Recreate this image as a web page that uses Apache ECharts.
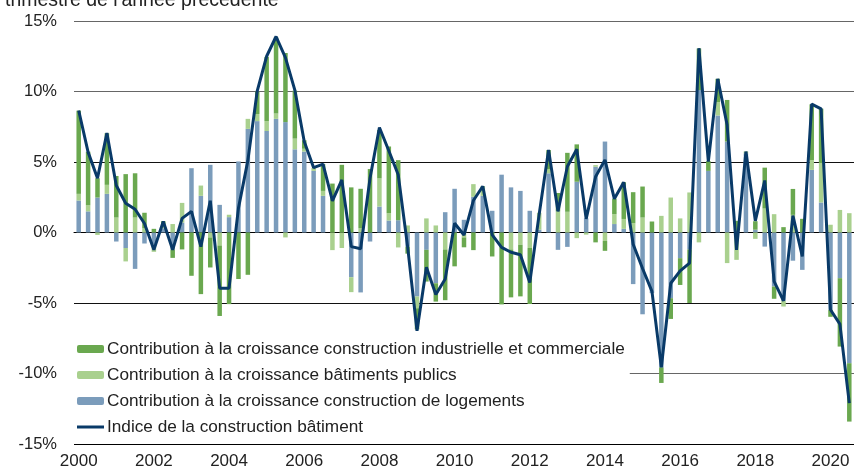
<!DOCTYPE html>
<html>
<head>
<meta charset="utf-8">
<title>Indice de la construction bâtiment</title>
<script src="https://cdn.jsdelivr.net/npm/echarts@6/dist/echarts.min.js"></script>
<style>
	html, body { margin: 0; padding: 0; background: #fff; }
	#chart { width: 854px; height: 475px; }
</style>
</head>
<body>
<div id="chart"></div>
<script>
	// années affichées sur l'axe (un libellé tous les deux ans)
	var years = ['2000', '2001', '2002', '2003', '2004', '2005', '2006', '2007', '2008', '2009', '2010',
		'2011', '2012', '2013', '2014', '2015', '2016', '2017', '2018', '2019', '2020'];
	var yTicks = [-15, -10, -5, 0, 5, 10, 15];

	// contributions (points de %), 2000T1 -> 2020T3
	var logements = [2.27, 1.5, 2.48, 2.74, -0.64, -1.1, -2.58, -0.78, -0.87, 0.3, -1.2, 0.7,
		4.56, 2.6, 4.8, 1.96, 1.09, 5.04, 7.35, 7.9, 7.2, 8.06, 7.83, 5.9,
		5.74, 4.37, 2.6, 0, 0, -3.17, -4.25, -0.64, 1.84, 0.85, 0.87, -1.0,
		-4.54, -1.23, -3.6, 1.44, 3.1, 0.9, 2.53, 2.6, 1.54, 4.1, 3.2, 2.95,
		1.54, 0.2, 4.2, -1.23, -1.02, 3.6, 1.0, 4.66, 6.45, 0.6, 0.26, -3.66,
		-5.8, -4.3, -9.57, -4.66, -1.82, -1.2, 10.1, 4.37, 8.3, 6.45, 0, 5.6,
		0.2, -1.0, -3.83, -4.85, -2.0, -2.65, 4.44, 2.13, -5.48, -3.24, -9.27];
	var publics = [0.47, 0.43, -0.17, 0.64, 1.06, -0.95, 1.06, 0.3, -0.5, 0.2, 0.6, 1.4,
		0, 0.73, -0.35, -0.92, 0.17, 0, 0.71, 0.5, 0.7, 0.38, -0.35, 0.76,
		0.2, 0.2, 0.35, -1.25, -1.1, -1.06, 0.3, 0, 2.0, 0.52, -1.06, 0.5,
		-0.83, 1.0, 0.5, -1.2, 0, -0.35, 0.9, 0.7, 0, 0, -1.2, -0.87,
		-1.1, 1.2, 0.3, 1.5, 1.47, -0.4, -0.15, 0.12, -0.6, 0.7, 0.7, 0.66,
		1.06, 0, 1.18, 2.48, 1.0, 2.84, -0.7, 0, 0.95, -2.17, -1.94, 0.15,
		-0.45, 1.7, 1.3, -0.4, 1.25, 0, 0.7, 2.8, 0.55, 1.6, 1.37];
	var industrie = [5.9, 3.8, 1.37, 3.66, 2.95, 4.14, 3.14, 1.1, 0.26, 0.3, -0.6, -1.2,
		-3.07, -4.37, -2.13, -5.0, -5.08, -3.3, -3.0, 1.6, 4.56, 5.39, 4.9, 3.4,
		0.6, 0, 1.9, 3.47, 4.8, 3.2, 2.8, 4.5, 3.43, 4.73, 4.26, -0.5,
		-1.5, -2.25, -1.3, -3.6, -2.4, -0.7, -1.25, 0, -1.7, -5.1, -3.4, -3.66,
		-3.97, 0, 1.35, 1.3, 4.18, 2.65, 0, -0.7, -0.7, 1.1, 2.6, 2.2,
		2.2, 0.78, -1.1, -1.47, -1.9, -3.8, 2.95, 0.7, 1.65, 2.95, 0.83, 0,
		0.6, 2.9, -0.87, 0.38, 1.84, 0.97, 3.95, 3.85, -0.5, -4.85, -4.14];
	// indice (variation en %)
	var indice = [8.65, 5.7, 3.85, 7.05, 3.33, 2.08, 1.65, 0.64, -1.23, 0.78, -1.23, 1.0,
		1.5, -1.0, 2.25, -3.95, -3.95, 1.73, 5.1, 10.05, 12.5, 13.9, 12.4, 10.1,
		6.45, 4.6, 4.85, 2.25, 3.73, -1.0, -1.15, 3.85, 7.45, 5.8, 4.1, -1.0,
		-6.97, -2.46, -4.4, -3.3, 0.66, -0.18, 2.27, 3.28, -0.17, -1.05, -1.4, -1.58,
		-3.55, 1.3, 5.86, 1.5, 4.68, 5.9, 0.97, 3.95, 5.15, 2.39, 3.57, -0.83,
		-2.55, -4.18, -9.57, -3.6, -2.72, -2.17, 13.07, 5.03, 10.9, 7.63, -1.23, 5.74,
		0.83, 3.69, -3.47, -4.85, 1.2, -1.7, 9.1, 8.77, -5.48, -6.5, -12.1];

	var noms = [
		'Contribution à la croissance construction industrielle et commerciale',
		'Contribution à la croissance bâtiments publics',
		'Contribution à la croissance construction de logements',
		'Indice de la construction bâtiment'
	];

	// trimestres : 2000T1 ... 2020T3
	var trimestres = [];
	for (var i = 0; i < indice.length; i++) {
		trimestres.push(years[Math.floor(i / 4)] + 'T' + (i % 4 + 1));
	}

	var police = 'Liberation Sans, Arial, sans-serif';
	var myChart = echarts.init(document.getElementById('chart'));

	var option = {
		animation: false,
		title: {
			text: 'trimestre de l\'année précédente',
			left: 0,
			top: -14,
			textStyle: { fontFamily: police, fontSize: 19.5, fontWeight: 'normal', color: '#222' }
		},
		grid: { left: 74, right: 0, top: 21, bottom: 31 },
		legend: {
			orient: 'vertical',
			left: 74,
			top: 332,
			padding: [8, 5, 2, 3],
			backgroundColor: '#fff',
			itemWidth: 27,
			itemHeight: 8,
			itemGap: 8,
			textStyle: { fontFamily: police, fontSize: 17.2, color: '#222', lineHeight: 18, padding: [0, 0, 0, -2] },
			data: [
				noms[0],
				noms[1],
				noms[2],
				{ name: noms[3], icon: 'path://M0 0H27V3H0Z' }
			]
		},
		xAxis: {
			type: 'category',
			data: trimestres,
			axisLine: { lineStyle: { color: '#000', width: 1 } },
			axisTick: { interval: 3, length: 5, lineStyle: { color: '#000' } },
			axisLabel: {
				interval: 7,
				margin: 9,
				fontFamily: police,
				fontSize: 17,
				color: '#222',
				formatter: function (v) { return v.slice(0, 4); }
			},
			splitLine: { show: false }
		},
		yAxis: {
			type: 'value',
			min: yTicks[0],
			max: yTicks[yTicks.length - 1],
			interval: 5,
			axisLine: { show: false },
			axisTick: { show: false },
			axisLabel: { margin: 17, fontFamily: police, fontSize: 16.5, color: '#222', formatter: '{value}%' },
			splitLine: {
				lineStyle: { color: ['#000', '#666', '#111', '#7a7a7a', '#111', '#666', '#666'], width: 1.2 }
			}
		},
		series: [{
			name: noms[2],
			type: 'bar',
			stack: 'contrib',
			barWidth: 4.5,
			itemStyle: { color: '#7b9cbb' },
			data: logements
		}, {
			name: noms[1],
			type: 'bar',
			stack: 'contrib',
			barWidth: 4.5,
			itemStyle: { color: '#a9d08e' },
			data: publics
		}, {
			name: noms[0],
			type: 'bar',
			stack: 'contrib',
			barWidth: 4.5,
			itemStyle: { color: '#6aa84f' },
			data: industrie
		}, {
			name: noms[3],
			type: 'line',
			symbol: 'none',
			z: 5,
			lineStyle: { color: '#093a68', width: 3 },
			itemStyle: { color: '#093a68' },
			data: indice
		}]
	};
	myChart.setOption(option);
</script>
</body>
</html>
